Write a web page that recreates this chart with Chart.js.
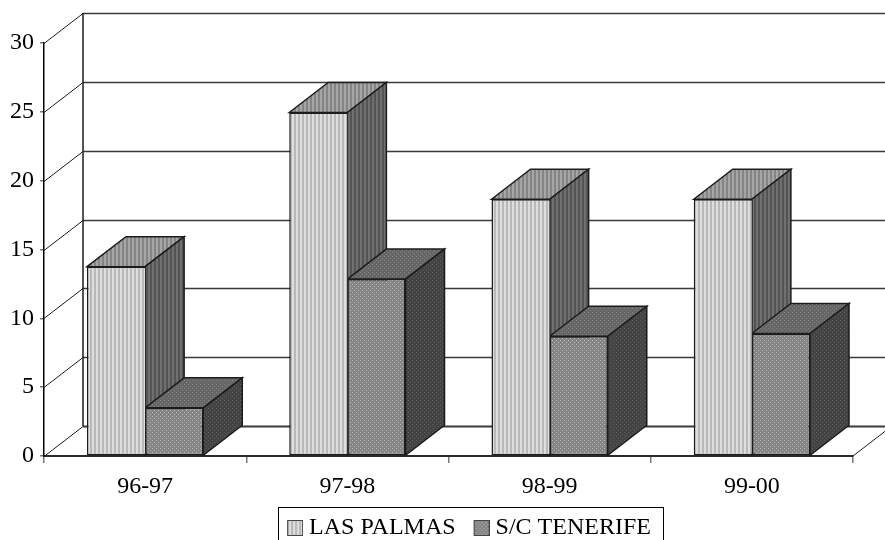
<!DOCTYPE html>
<html>
<head>
<meta charset="utf-8">
<style>
  html, body { margin: 0; padding: 0; background: #fff; }
  canvas { display: block; }
</style>
<script src="https://cdn.jsdelivr.net/npm/chart.js@4/dist/chart.umd.min.js"></script>
</head>
<body>
<canvas id="chart" width="885" height="540"></canvas>
<script>
const categories = ['96-97', '97-98', '98-99', '99-00'];
const lasPalmas = [13.75, 24.95, 18.65, 18.65];
const tenerife = [3.5, 12.85, 8.7, 8.9];
const yTicks = [0, 5, 10, 15, 20, 25, 30];

const DEPTH_X = 39;
const DEPTH_Y = 30;
const LINE = '#1c1c1c';
const FONT = 'Liberation Serif';

const stripes = (a, b) => {
    const c = document.createElement('canvas');
    c.width = 4; c.height = 1;
    const g = c.getContext('2d');
    g.fillStyle = a; g.fillRect(0, 0, 4, 1);
    g.fillStyle = b; g.fillRect(2, 0, 2, 1);
    return g.createPattern(c, 'repeat');
};
const dots = (a, b) => {
    const c = document.createElement('canvas');
    c.width = 4; c.height = 4;
    const g = c.getContext('2d');
    g.fillStyle = a; g.fillRect(0, 0, 4, 4);
    g.fillStyle = b; g.fillRect(0, 0, 1, 1); g.fillRect(2, 2, 1, 1);
    return g.createPattern(c, 'repeat');
};

const fronts = [stripes('#dedede', '#b8b8b8'), dots('#868686', '#b4b4b4')];
const faces = [
    { top: stripes('#a6a6a6', '#848484'), side: stripes('#707070', '#545454') },
    { top: dots('#666666', '#848484'), side: dots('#444444', '#5c5c5c') },
];

// legend key with blank margins, so the library leaves a tighter gap before the text
const legendKey = fill => {
    const c = document.createElement('canvas');
    c.width = 30; c.height = 16;
    const g = c.getContext('2d');
    g.fillStyle = fill;
    g.fillRect(14, 0, 16, 16);
    g.strokeStyle = '#444';
    g.strokeRect(14.5, 0.5, 15, 15);
    return c;
};

const poly = (ctx, pts, fill) => {
    ctx.beginPath();
    pts.forEach((p, i) => i ? ctx.lineTo(p[0], p[1]) : ctx.moveTo(p[0], p[1]));
    ctx.closePath();
    if (fill) { ctx.fillStyle = fill; ctx.fill(); }
    ctx.stroke();
};

// back wall, side wall and floor of the 3d box
const wallsPlugin = {
    id: 'walls',
    beforeDatasetsDraw(chart) {
        const { ctx, scales: { x, y } } = chart;
        ctx.save();
        ctx.strokeStyle = LINE;
        ctx.lineWidth = 1;
        yTicks.forEach(v => {
            const py = Math.round(y.getPixelForValue(v)) + 0.5;
            ctx.beginPath();
            ctx.moveTo(x.left, py);
            ctx.lineTo(x.left + DEPTH_X, py - DEPTH_Y);
            ctx.stroke();
            ctx.lineWidth = v === 0 ? 2 : 1.5;
            ctx.strokeStyle = '#3a3a3a';
            ctx.beginPath();
            ctx.moveTo(x.left + DEPTH_X, py - DEPTH_Y);
            ctx.lineTo(chart.width, py - DEPTH_Y);
            ctx.stroke();
            ctx.lineWidth = 1;
            ctx.strokeStyle = LINE;
        });
        ctx.lineWidth = 1.5;
        ctx.beginPath();
        ctx.moveTo(x.left + DEPTH_X, y.top - DEPTH_Y);
        ctx.lineTo(x.left + DEPTH_X, y.bottom - DEPTH_Y);
        ctx.stroke();
        ctx.lineWidth = 1;
        ctx.beginPath();
        ctx.moveTo(x.right, y.bottom);
        ctx.lineTo(x.right + DEPTH_X, y.bottom - DEPTH_Y);
        ctx.stroke();
        ctx.restore();

        // tops and sides of the bars, fronts come from the library
        ctx.save();
        ctx.strokeStyle = LINE;
        ctx.lineWidth = 1.5;
        ctx.lineJoin = 'miter';
        chart.data.datasets.forEach((ds, i) => {
            chart.getDatasetMeta(i).data.forEach(bar => {
                const l = bar.x - bar.width / 2;
                const r = bar.x + bar.width / 2;
                poly(ctx, [[l, bar.y], [l + DEPTH_X, bar.y - DEPTH_Y], [r + DEPTH_X, bar.y - DEPTH_Y], [r, bar.y]], faces[i].top);
                poly(ctx, [[r, bar.y], [r + DEPTH_X, bar.y - DEPTH_Y], [r + DEPTH_X, bar.base - DEPTH_Y], [r, bar.base]], faces[i].side);
            });
        });
        ctx.restore();
    },
    beforeDraw(chart) {
        // legend is centred on the plot, not on the page
        const lg = chart.legend;
        lg.left = 160;
        lg.right = 770;
        lg.top = 506;
        lg.bottom = 540;
    },
    afterDraw(chart) {
        const { ctx } = chart;
        ctx.save();
        ctx.strokeStyle = '#000';
        ctx.lineWidth = 1;
        // box runs off the bottom of the page
        ctx.strokeRect(278.5, 507.5, 385, 40);
        ctx.restore();
    },
};

new Chart(document.getElementById('chart'), {
    type: 'bar',
    data: {
        labels: categories,
        datasets: [
            {
                label: 'LAS PALMAS',
                data: lasPalmas,
                backgroundColor: fronts[0],
                pointStyle: legendKey(fronts[0]),
                borderColor: LINE,
                borderWidth: { top: 1.5, left: 1.5, bottom: 1.5, right: 0 },
                borderSkipped: false,
                categoryPercentage: 0.575,
                barPercentage: 1,
            },
            {
                label: 'S/C TENERIFE',
                data: tenerife,
                backgroundColor: fronts[1],
                pointStyle: legendKey(fronts[1]),
                borderColor: LINE,
                borderWidth: 1.5,
                borderSkipped: false,
                categoryPercentage: 0.575,
                barPercentage: 1,
            },
        ],
    },
    options: {
        responsive: false,
        animation: false,
        layout: { padding: { top: 43, right: 32, left: 0, bottom: 0 } },
        plugins: {
            tooltip: { enabled: false },
            legend: {
                position: 'bottom',
                labels: {
                    usePointStyle: true,
                    pointStyleWidth: 18,
                    boxHeight: 16,
                    padding: 10,
                    color: '#000',
                    font: { family: FONT, size: 24 },
                },
            },
        },
        scales: {
            x: {
                afterFit: s => { s.height = 40; },
                grid: { drawOnChartArea: false, offset: true, tickLength: 7, color: '#777', lineWidth: 1.5 },
                border: { color: '#2a2a2a', width: 2 },
                ticks: { color: '#000', font: { family: FONT, size: 24 }, padding: 9, maxRotation: 0 },
            },
            y: {
                min: 0,
                max: 30,
                afterFit: s => { s.width = 44; },
                afterBuildTicks: s => { s.ticks = yTicks.map(v => ({ value: v })); },
                grid: { drawOnChartArea: false, tickLength: 4, color: '#777', lineWidth: 1.5 },
                border: { color: '#000', width: 1.5 },
                ticks: { color: '#000', font: { family: FONT, size: 24 }, padding: 6 },
            },
        },
    },
    plugins: [wallsPlugin],
});
</script>
</body>
</html>
